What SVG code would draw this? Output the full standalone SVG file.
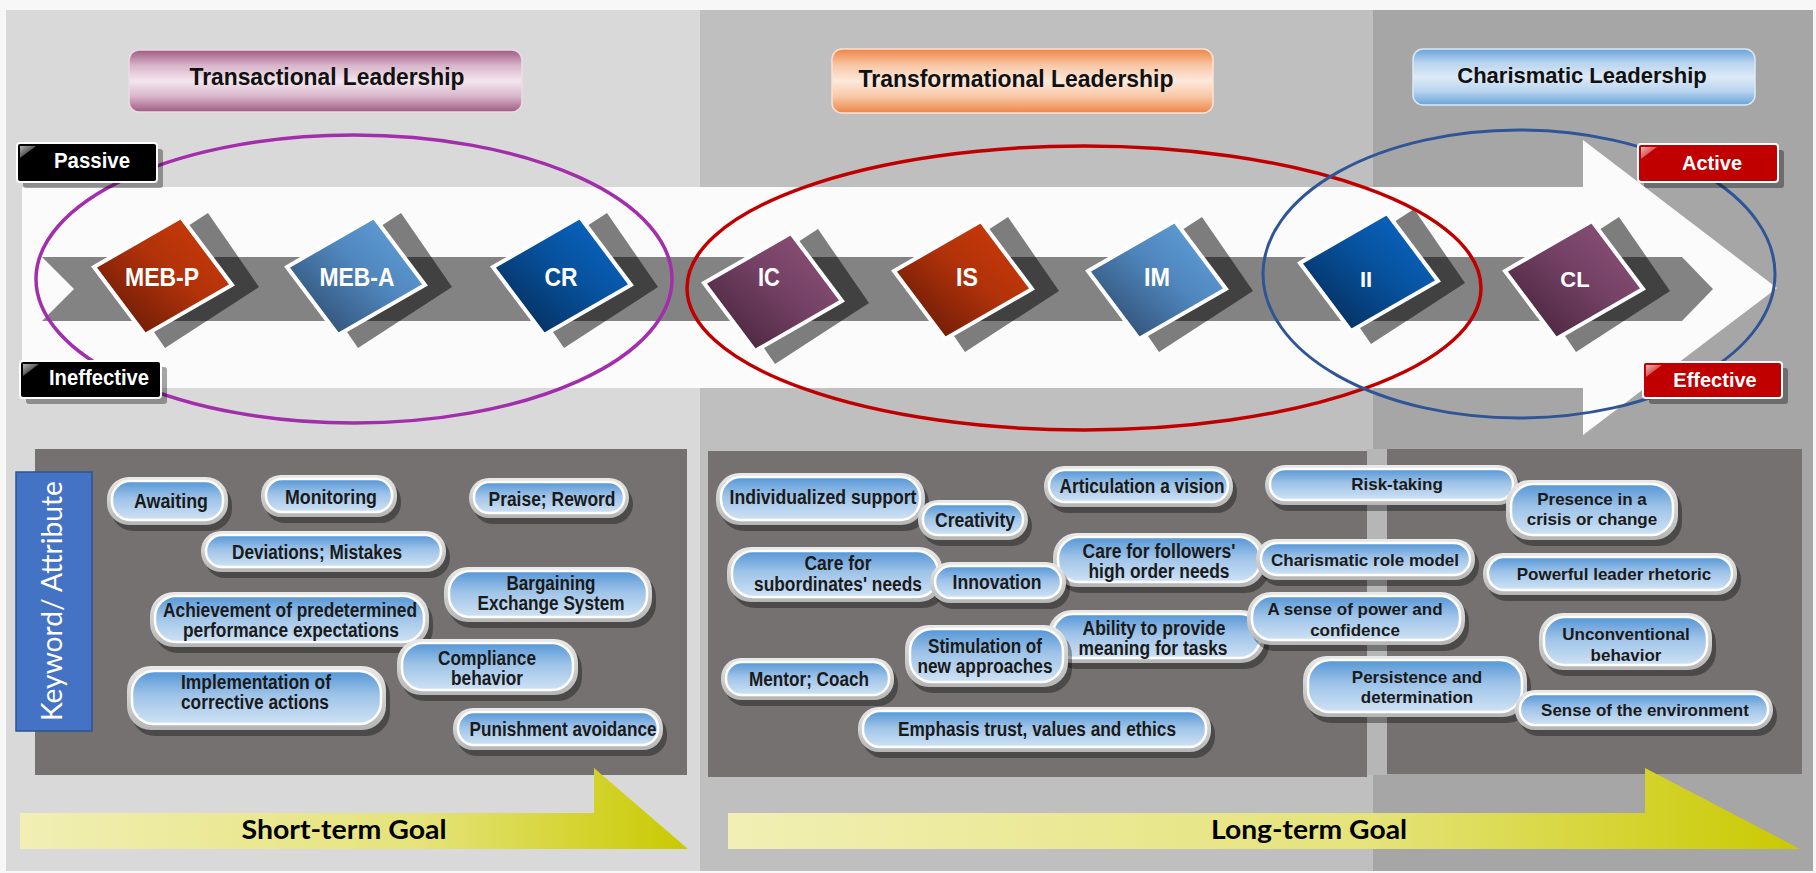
<svg xmlns="http://www.w3.org/2000/svg" width="1816" height="873" viewBox="0 0 1816 873">
<defs>
<style>
.tn{font-family:"Liberation Sans Narrow","Liberation Sans",Arial,sans-serif;font-weight:bold;text-anchor:middle}
.tr{font-family:"Liberation Sans",Arial,sans-serif;font-weight:bold;text-anchor:middle}
.bt{font-size:20px;fill:#1a1a1a}
.br{font-size:17px;fill:#1a1a1a}
.dt{fill:#fff;font-size:25px}
.sh{fill:#000;opacity:.5}
.ring{fill:url(#gRing)}
.pin{fill:url(#gPill);stroke:#fff;stroke-width:2.5}
.bsh{fill:#000;opacity:.35}
.lab{stroke:#fff;stroke-width:2}
.lsh{fill:#000;opacity:.35}
.dia{stroke:#fff;stroke-width:4;stroke-linejoin:miter}
</style>
<linearGradient id="gRing" x1="0" y1="0" x2="0" y2="1"><stop offset="0" stop-color="#e9e9e9"/><stop offset="1" stop-color="#b5b5b5"/></linearGradient>
<linearGradient id="gPill" x1="0" y1="0" x2="0" y2="1"><stop offset="0" stop-color="#5596d6"/><stop offset=".45" stop-color="#9ec3e8"/><stop offset="1" stop-color="#cfe2f4"/></linearGradient>
<linearGradient id="gRed" x1="0" y1="1" x2="1" y2="0"><stop offset="0" stop-color="#561505"/><stop offset=".55" stop-color="#b2320a"/><stop offset="1" stop-color="#cf3d08"/></linearGradient>
<linearGradient id="gLBlue" x1="0" y1="1" x2="1" y2="0"><stop offset="0" stop-color="#273f5e"/><stop offset=".55" stop-color="#4f86bd"/><stop offset="1" stop-color="#65a5de"/></linearGradient>
<linearGradient id="gBlue" x1="0" y1="1" x2="1" y2="0"><stop offset="0" stop-color="#04244a"/><stop offset=".55" stop-color="#07529e"/><stop offset="1" stop-color="#0a6ace"/></linearGradient>
<linearGradient id="gPurp" x1="0" y1="1" x2="1" y2="0"><stop offset="0" stop-color="#3e1f33"/><stop offset=".55" stop-color="#744165"/><stop offset="1" stop-color="#92547c"/></linearGradient>
<linearGradient id="gT1" x1="0" y1="0" x2="0" y2="1"><stop offset="0" stop-color="#a05a82"/><stop offset=".25" stop-color="#d8b5ca"/><stop offset=".5" stop-color="#f3e6ee"/><stop offset=".75" stop-color="#d8b5ca"/><stop offset="1" stop-color="#a05a82"/></linearGradient>
<linearGradient id="gT2" x1="0" y1="0" x2="0" y2="1"><stop offset="0" stop-color="#ee8546"/><stop offset=".25" stop-color="#f8c6a4"/><stop offset=".5" stop-color="#fde9dc"/><stop offset=".75" stop-color="#f8c6a4"/><stop offset="1" stop-color="#ee8546"/></linearGradient>
<linearGradient id="gT3" x1="0" y1="0" x2="0" y2="1"><stop offset="0" stop-color="#6aa3da"/><stop offset=".25" stop-color="#b8d4ef"/><stop offset=".5" stop-color="#deeaf6"/><stop offset=".75" stop-color="#b8d4ef"/><stop offset="1" stop-color="#6aa3da"/></linearGradient>
<linearGradient id="gGoal" x1="0" y1="0" x2="1" y2="0"><stop offset="0" stop-color="#f1efb4"/><stop offset=".6" stop-color="#e5e37a"/><stop offset="1" stop-color="#c9c900"/></linearGradient>
<linearGradient id="gGloss" x1="0" y1="0" x2="1" y2="1"><stop offset="0" stop-color="#fff" stop-opacity=".7"/><stop offset="1" stop-color="#fff" stop-opacity="0"/></linearGradient>
</defs>

<g id="background">
<rect x="0" y="0" width="1816" height="873" fill="#f7f7f7"/>
<rect x="6" y="10" width="694" height="861" fill="#d9d9d9"/>
<rect x="700" y="10" width="673" height="861" fill="#bfbfbf"/>
<rect x="1373" y="10" width="440" height="861" fill="#a6a6a6"/>
<rect x="1367" y="449" width="20" height="326" fill="#b6b6b6"/>
</g>

<g id="process-arrow">
<polygon points="22,187 1583,187 1583,140 1777,288 1583,435 1583,388 22,388" fill="#fbfbfc"/>
<polygon points="42,257 1682,257 1713,289 1682,321 42,321 74,289" fill="#000" opacity=".48"/>
</g>

<g id="title-transactional">
<rect x="129" y="50" width="393" height="62" rx="10" fill="url(#gT1)" stroke="#ecdce6" stroke-width="1.5"/>
<text class="tn" x="327" y="85" font-size="24" textLength="275" lengthAdjust="spacingAndGlyphs" fill="#111">Transactional Leadership</text>
</g>
<g id="title-transformational">
<rect x="832" y="49" width="381" height="64" rx="10" fill="url(#gT2)" stroke="#fbe2d2" stroke-width="1.5"/>
<text class="tn" x="1016" y="87" font-size="24" textLength="315" lengthAdjust="spacingAndGlyphs" fill="#111">Transformational Leadership</text>
</g>
<g id="title-charismatic">
<rect x="1413" y="49" width="342" height="56" rx="10" fill="url(#gT3)" stroke="#dce9f6" stroke-width="1.5"/>
<text class="tr" x="1582" y="83" font-size="22" fill="#111">Charismatic Leadership</text>
</g>

<g id="node-MEB-P" transform="translate(163,276)">
<polygon class="sh" points="45,-63 96,11 2,72 -49,-2"/>
<polygon class="dia" fill="url(#gRed)" points="-69,-9 18,-59 69,9 -18,59"/>
<text class="tn dt" x="-1" y="10" textLength="74" lengthAdjust="spacingAndGlyphs">MEB-P</text>
</g>
<g id="node-MEB-A" transform="translate(356,276)">
<polygon class="sh" points="45,-63 96,11 2,72 -49,-2"/>
<polygon class="dia" fill="url(#gLBlue)" points="-69,-9 18,-59 69,9 -18,59"/>
<text class="tn dt" x="1" y="10" textLength="75" lengthAdjust="spacingAndGlyphs">MEB-A</text>
</g>
<g id="node-CR" transform="translate(562,276)">
<polygon class="sh" points="45,-63 96,11 2,72 -49,-2"/>
<polygon class="dia" fill="url(#gBlue)" points="-69,-9 18,-59 69,9 -18,59"/>
<text class="tn dt" x="-1" y="10" textLength="33" lengthAdjust="spacingAndGlyphs">CR</text>
</g>
<g id="node-IC" transform="translate(773,292)">
<polygon class="sh" points="45,-63 96,11 2,72 -49,-2"/>
<polygon class="dia" fill="url(#gPurp)" points="-69,-9 18,-59 69,9 -18,59"/>
<text class="tn dt" x="-4" y="-6" textLength="22" lengthAdjust="spacingAndGlyphs">IC</text>
</g>
<g id="node-IS" transform="translate(963,280)">
<polygon class="sh" points="45,-63 96,11 2,72 -49,-2"/>
<polygon class="dia" fill="url(#gRed)" points="-69,-9 18,-59 69,9 -18,59"/>
<text class="tn dt" x="4" y="6" textLength="22" lengthAdjust="spacingAndGlyphs">IS</text>
</g>
<g id="node-IM" transform="translate(1157,280)">
<polygon class="sh" points="45,-63 96,11 2,72 -49,-2"/>
<polygon class="dia" fill="url(#gLBlue)" points="-69,-9 18,-59 69,9 -18,59"/>
<text class="tn dt" x="0" y="6" textLength="26" lengthAdjust="spacingAndGlyphs">IM</text>
</g>
<g id="node-II" transform="translate(1369,272)">
<polygon class="sh" points="45,-63 96,11 2,72 -49,-2"/>
<polygon class="dia" fill="url(#gBlue)" points="-69,-9 18,-59 69,9 -18,59"/>
<text class="tr" x="-3" y="15" font-size="22" fill="#fff">II</text>
</g>
<g id="node-CL" transform="translate(1574,280)">
<polygon class="sh" points="45,-63 96,11 2,72 -49,-2"/>
<polygon class="dia" fill="url(#gPurp)" points="-69,-9 18,-59 69,9 -18,59"/>
<text class="tr" x="1" y="7" font-size="22" fill="#fff">CL</text>
</g>

<g id="groupings" fill="none">
<ellipse cx="354" cy="279" rx="318" ry="144" stroke="#a32eab" stroke-width="3.5"/>
<ellipse cx="1084" cy="288" rx="397" ry="142" stroke="#c00000" stroke-width="3.5"/>
<ellipse cx="1519" cy="274" rx="256" ry="144" stroke="#2f5597" stroke-width="3"/>
</g>

<g id="label-passive">
<rect class="lsh" x="23" y="149" width="140" height="39" rx="3"/>
<rect class="lab" x="17" y="143" width="140" height="39" rx="3" fill="#000"/>
<path d="M20,146 h16 l-16,12 z" fill="url(#gGloss)"/>
<text class="tn" x="92" y="168" font-size="22" fill="#fff" textLength="76" lengthAdjust="spacingAndGlyphs">Passive</text>
</g>
<g id="label-ineffective">
<rect class="lsh" x="26" y="367" width="141" height="37" rx="3"/>
<rect class="lab" x="20" y="361" width="141" height="37" rx="3" fill="#000"/>
<path d="M23,364 h16 l-16,12 z" fill="url(#gGloss)"/>
<text class="tn" x="99" y="385" font-size="22" fill="#fff" textLength="100" lengthAdjust="spacingAndGlyphs">Ineffective</text>
</g>
<g id="label-active">
<rect class="lsh" x="1644" y="150" width="140" height="38" rx="3"/>
<rect class="lab" x="1638" y="144" width="140" height="38" rx="3" fill="#c00000"/>
<path d="M1641,147 h16 l-16,12 z" fill="url(#gGloss)"/>
<text class="tr" x="1712" y="170" font-size="20" fill="#fff">Active</text>
</g>
<g id="label-effective">
<rect class="lsh" x="1649" y="368" width="139" height="36" rx="3"/>
<rect class="lab" x="1643" y="362" width="139" height="36" rx="3" fill="#c00000"/>
<path d="M1646,365 h16 l-16,12 z" fill="url(#gGloss)"/>
<text class="tr" x="1715" y="387" font-size="20" fill="#fff">Effective</text>
</g>

<g id="attribute-panels">
<rect x="35" y="449" width="652" height="326" fill="#757170"/>
<rect x="708" y="451" width="659" height="326" fill="#757170"/>
<rect x="1387" y="449" width="415" height="325" fill="#757170"/>
</g>

<g id="keyword-attribute">
<rect x="16" y="472" width="76" height="259" fill="#4472c4" stroke="#2f528f" stroke-width="1.5"/>
<text transform="translate(62,601) rotate(-90)" text-anchor="middle" font-family="Lato,'Open Sans',sans-serif" font-size="28" fill="#fff" textLength="240" lengthAdjust="spacingAndGlyphs">Keyword/ Attribute</text>
</g>

<g id="b-awaiting"><rect class="bsh" x="111" y="483" width="121" height="48" rx="22"/><rect class="ring" x="107" y="477" width="121" height="48" rx="22"/><rect class="pin" x="112" y="481" width="111" height="39" rx="18"/><text class="tn bt" x="171" y="508" textLength="74" lengthAdjust="spacingAndGlyphs">Awaiting</text></g>
<g id="b-monitoring"><rect class="bsh" x="265" y="481" width="136" height="42" rx="20"/><rect class="ring" x="261" y="475" width="136" height="42" rx="20"/><rect class="pin" x="266" y="479" width="126" height="33" rx="16"/><text class="tn bt" x="331" y="504" textLength="92" lengthAdjust="spacingAndGlyphs">Monitoring</text></g>
<g id="b-praise"><rect class="bsh" x="473" y="484" width="160" height="40" rx="20"/><rect class="ring" x="469" y="478" width="160" height="40" rx="20"/><rect class="pin" x="474" y="482" width="150" height="31" rx="15"/><text class="tn bt" x="552" y="506" textLength="127" lengthAdjust="spacingAndGlyphs">Praise; Reword</text></g>
<g id="b-deviations"><rect class="bsh" x="205" y="537" width="245" height="41" rx="20"/><rect class="ring" x="201" y="531" width="245" height="41" rx="20"/><rect class="pin" x="206" y="535" width="235" height="32" rx="16"/><text class="tn bt" x="317" y="559" textLength="170" lengthAdjust="spacingAndGlyphs">Deviations; Mistakes</text></g>
<g id="b-bargaining"><rect class="bsh" x="448" y="573" width="208" height="55" rx="24"/><rect class="ring" x="444" y="567" width="208" height="55" rx="24"/><rect class="pin" x="449" y="571" width="198" height="46" rx="21"/><text class="tn bt" x="551" y="590" textLength="89" lengthAdjust="spacingAndGlyphs">Bargaining</text><text class="tn bt" x="551" y="610" textLength="147" lengthAdjust="spacingAndGlyphs">Exchange System</text></g>
<g id="b-achievement"><rect class="bsh" x="154" y="598" width="279" height="55" rx="24"/><rect class="ring" x="150" y="592" width="279" height="55" rx="24"/><rect class="pin" x="155" y="596" width="269" height="46" rx="21"/><text class="tn bt" x="290" y="617" textLength="254" lengthAdjust="spacingAndGlyphs">Achievement of predetermined</text><text class="tn bt" x="291" y="637" textLength="216" lengthAdjust="spacingAndGlyphs">performance expectations</text></g>
<g id="b-compliance"><rect class="bsh" x="401" y="645" width="181" height="56" rx="24"/><rect class="ring" x="397" y="639" width="181" height="56" rx="24"/><rect class="pin" x="402" y="643" width="171" height="47" rx="21"/><text class="tn bt" x="487" y="665" textLength="98" lengthAdjust="spacingAndGlyphs">Compliance</text><text class="tn bt" x="487" y="685" textLength="72" lengthAdjust="spacingAndGlyphs">behavior</text></g>
<g id="b-implementation"><rect class="bsh" x="131" y="672" width="259" height="64" rx="24"/><rect class="ring" x="127" y="666" width="259" height="64" rx="24"/><rect class="pin" x="132" y="671" width="249" height="53" rx="22"/><text class="tn bt" x="256" y="689" textLength="150" lengthAdjust="spacingAndGlyphs">Implementation of</text><text class="tn bt" x="255" y="709" textLength="148" lengthAdjust="spacingAndGlyphs">corrective actions</text></g>
<g id="b-punishment"><rect class="bsh" x="457" y="714" width="210" height="42" rx="20"/><rect class="ring" x="453" y="708" width="210" height="42" rx="20"/><rect class="pin" x="458" y="712" width="200" height="33" rx="16"/><text class="tn bt" x="563" y="736" textLength="187" lengthAdjust="spacingAndGlyphs">Punishment avoidance</text></g>

<g id="b-individualized"><rect class="bsh" x="720" y="479" width="209" height="52" rx="24"/><rect class="ring" x="716" y="473" width="209" height="52" rx="24"/><rect class="pin" x="721" y="477" width="199" height="43" rx="20"/><text class="tn bt" x="823" y="504" textLength="187" lengthAdjust="spacingAndGlyphs">Individualized support</text></g>
<g id="b-articulation"><rect class="bsh" x="1048" y="472" width="189" height="41" rx="20"/><rect class="ring" x="1044" y="466" width="189" height="41" rx="20"/><rect class="pin" x="1049" y="470" width="179" height="32" rx="16"/><text class="tn bt" x="1142" y="493" textLength="165" lengthAdjust="spacingAndGlyphs">Articulation a vision</text></g>
<g id="b-creativity"><rect class="bsh" x="922" y="506" width="110" height="40" rx="20"/><rect class="ring" x="918" y="500" width="110" height="40" rx="20"/><rect class="pin" x="923" y="504" width="100" height="31" rx="15"/><text class="tn bt" x="975" y="527" textLength="80" lengthAdjust="spacingAndGlyphs">Creativity</text></g>
<g id="b-care-subordinates"><rect class="bsh" x="731" y="553" width="216" height="55" rx="24"/><rect class="ring" x="727" y="547" width="216" height="55" rx="24"/><rect class="pin" x="732" y="551" width="206" height="46" rx="21"/><text class="tn bt" x="838" y="570" textLength="67" lengthAdjust="spacingAndGlyphs">Care for</text><text class="tn bt" x="838" y="591" textLength="168" lengthAdjust="spacingAndGlyphs">subordinates' needs</text></g>
<g id="b-care-followers"><rect class="bsh" x="1057" y="539" width="212" height="54" rx="24"/><rect class="ring" x="1053" y="533" width="212" height="54" rx="24"/><rect class="pin" x="1058" y="537" width="202" height="45" rx="21"/><text class="tn bt" x="1159" y="558" textLength="153" lengthAdjust="spacingAndGlyphs">Care for followers'</text><text class="tn bt" x="1159" y="578" textLength="141" lengthAdjust="spacingAndGlyphs">high order needs</text></g>
<g id="b-innovation"><rect class="bsh" x="934" y="568" width="136" height="41" rx="20"/><rect class="ring" x="930" y="562" width="136" height="41" rx="20"/><rect class="pin" x="935" y="566" width="126" height="32" rx="16"/><text class="tn bt" x="997" y="589" textLength="89" lengthAdjust="spacingAndGlyphs">Innovation</text></g>
<g id="b-ability"><rect class="bsh" x="1052" y="616" width="217" height="53" rx="24"/><rect class="ring" x="1048" y="610" width="217" height="53" rx="24"/><rect class="pin" x="1053" y="614" width="207" height="44" rx="20"/><text class="tn bt" x="1154" y="635" textLength="143" lengthAdjust="spacingAndGlyphs">Ability to provide</text><text class="tn bt" x="1153" y="655" textLength="149" lengthAdjust="spacingAndGlyphs">meaning for tasks</text></g>
<g id="b-stimulation"><rect class="bsh" x="909" y="631" width="163" height="62" rx="24"/><rect class="ring" x="905" y="625" width="163" height="62" rx="24"/><rect class="pin" x="910" y="629" width="153" height="53" rx="22"/><text class="tn bt" x="985" y="653" textLength="114" lengthAdjust="spacingAndGlyphs">Stimulation of</text><text class="tn bt" x="985" y="673" textLength="135" lengthAdjust="spacingAndGlyphs">new approaches</text></g>
<g id="b-mentor"><rect class="bsh" x="725" y="664" width="173" height="42" rx="20"/><rect class="ring" x="721" y="658" width="173" height="42" rx="20"/><rect class="pin" x="726" y="662" width="163" height="33" rx="16"/><text class="tn bt" x="809" y="686" textLength="120" lengthAdjust="spacingAndGlyphs">Mentor; Coach</text></g>
<g id="b-emphasis"><rect class="bsh" x="862" y="713" width="353" height="45" rx="21"/><rect class="ring" x="858" y="707" width="353" height="45" rx="21"/><rect class="pin" x="863" y="711" width="343" height="36" rx="17"/><text class="tn bt" x="1037" y="736" textLength="278" lengthAdjust="spacingAndGlyphs">Emphasis trust, values and ethics</text></g>

<g id="b-risk"><rect class="bsh" x="1269" y="471" width="253" height="40" rx="20"/><rect class="ring" x="1265" y="465" width="253" height="40" rx="20"/><rect class="pin" x="1270" y="469" width="243" height="31" rx="15"/><text class="tr br" x="1397" y="490">Risk-taking</text></g>
<g id="b-presence"><rect class="bsh" x="1510" y="486" width="172" height="60" rx="24"/><rect class="ring" x="1506" y="480" width="172" height="60" rx="24"/><rect class="pin" x="1511" y="484" width="162" height="51" rx="22"/><text class="tr br" x="1592" y="505">Presence in a</text><text class="tr br" x="1592" y="525">crisis or change</text></g>
<g id="b-role-model"><rect class="bsh" x="1260" y="545" width="219" height="41" rx="20"/><rect class="ring" x="1256" y="539" width="219" height="41" rx="20"/><rect class="pin" x="1261" y="543" width="209" height="32" rx="16"/><text class="tr br" x="1365" y="566">Charismatic role model</text></g>
<g id="b-rhetoric"><rect class="bsh" x="1487" y="559" width="254" height="42" rx="20"/><rect class="ring" x="1483" y="553" width="254" height="42" rx="20"/><rect class="pin" x="1488" y="557" width="244" height="33" rx="16"/><text class="tr br" x="1614" y="580">Powerful leader rhetoric</text></g>
<g id="b-power"><rect class="bsh" x="1251" y="598" width="218" height="53" rx="24"/><rect class="ring" x="1247" y="592" width="218" height="53" rx="24"/><rect class="pin" x="1252" y="596" width="208" height="44" rx="20"/><text class="tr br" x="1355" y="615">A sense of power and</text><text class="tr br" x="1355" y="636">confidence</text></g>
<g id="b-unconventional"><rect class="bsh" x="1543" y="619" width="173" height="57" rx="24"/><rect class="ring" x="1539" y="613" width="173" height="57" rx="24"/><rect class="pin" x="1544" y="617" width="163" height="48" rx="21"/><text class="tr br" x="1626" y="640">Unconventional</text><text class="tr br" x="1626" y="661">behavior</text></g>
<g id="b-persistence"><rect class="bsh" x="1307" y="662" width="224" height="61" rx="24"/><rect class="ring" x="1303" y="656" width="224" height="61" rx="24"/><rect class="pin" x="1308" y="660" width="214" height="52" rx="22"/><text class="tr br" x="1417" y="683">Persistence and</text><text class="tr br" x="1417" y="703">determination</text></g>
<g id="b-environment"><rect class="bsh" x="1519" y="696" width="258" height="40" rx="20"/><rect class="ring" x="1515" y="690" width="258" height="40" rx="20"/><rect class="pin" x="1520" y="694" width="248" height="31" rx="15"/><text class="tr br" x="1645" y="716">Sense of the environment</text></g>

<g id="goal-short">
<polygon points="20,813 594,813 594,768 688,849 20,849" fill="url(#gGoal)"/>
<text x="344" y="839" text-anchor="middle" font-family="Lato,'Open Sans',sans-serif" font-weight="bold" font-size="26" fill="#000" textLength="205" lengthAdjust="spacingAndGlyphs">Short-term Goal</text>
</g>
<g id="goal-long">
<polygon points="728,813 1645,813 1645,768 1800,849 728,849" fill="url(#gGoal)"/>
<text x="1309" y="839" text-anchor="middle" font-family="Lato,'Open Sans',sans-serif" font-weight="bold" font-size="26" fill="#000" textLength="196" lengthAdjust="spacingAndGlyphs">Long-term Goal</text>
</g>
</svg>
